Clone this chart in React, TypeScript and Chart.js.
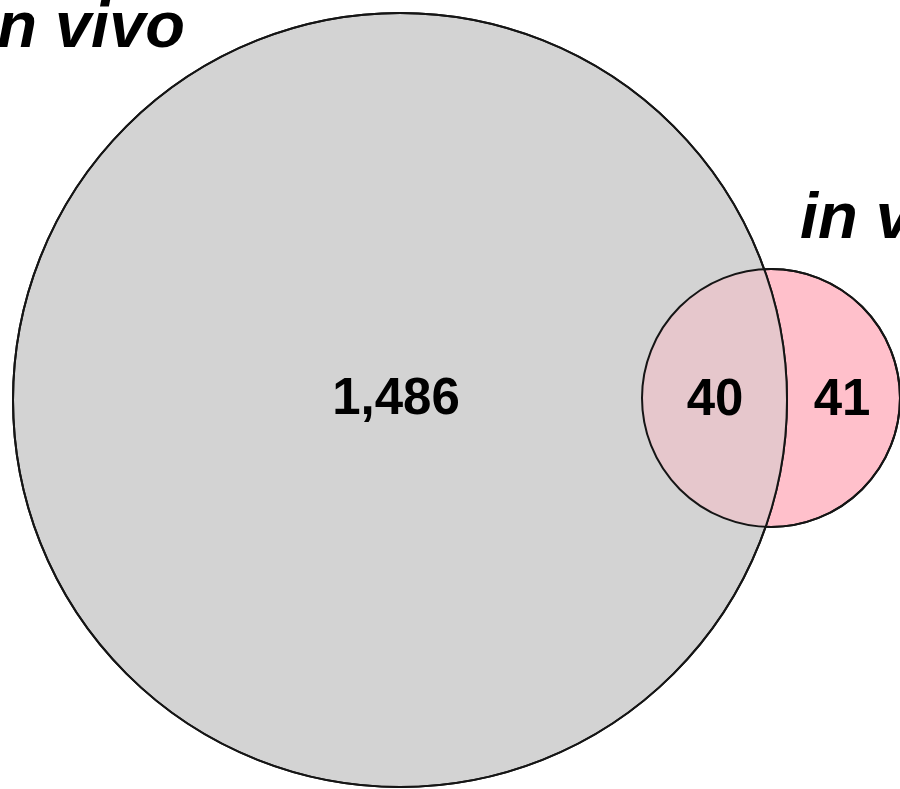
import React, { useEffect, useRef } from "react";
import { Chart, registerables } from "chart.js";
Chart.register(...registerables);

// ---- data ----
const setNames = ["in vivo", "in vitro"];
const regionNames = ["in vivo only", "both", "in vitro only"];
const regionCounts = [1486, 40, 41];

// ---- layout (data units of the hidden 900 x 789 scales) ----
const CIRCLES = [
  { x: 400, y: 400, r: 387 },
  { x: 771, y: 398, r: 129 },
];
const COUNT_POS = [
  { x: 396, y: 400 },
  { x: 715, y: 401 },
  { x: 842, y: 401 },
];
const NAME_POS: { x: number; y: number; align: CanvasTextAlign }[] = [
  { x: 185, y: 47, align: "right" },
  { x: 800, y: 238, align: "left" },
];

// ---- styles ----
const FILLS = ["#d3d3d3", "#ffc0cb"];
const LENS = "#e6c7cc";
const EDGE = "#151515";
const EDGE_W = 2;
const FONT = '"Liberation Sans", Arial, Helvetica, sans-serif';

const fmt = (n: number) => n.toLocaleString("en-US");

function pxCircle(chart: any, c: { x: number; y: number; r: number }) {
  const sx = chart.scales.x;
  const sy = chart.scales.y;
  return {
    cx: sx.getPixelForValue(c.x),
    cy: sy.getPixelForValue(c.y),
    r: Math.abs(sx.getPixelForValue(c.r) - sx.getPixelForValue(0)),
  };
}

const vennPlugin = {
  id: "vennOverlay",
  afterDatasetsDraw(chart: any) {
    const ctx: CanvasRenderingContext2D = chart.ctx;
    const sx = chart.scales.x;
    const sy = chart.scales.y;
    const a = pxCircle(chart, CIRCLES[0]);
    const b = pxCircle(chart, CIRCLES[1]);

    // intersection region
    ctx.save();
    ctx.beginPath();
    ctx.arc(a.cx, a.cy, a.r, 0, Math.PI * 2);
    ctx.clip();
    ctx.beginPath();
    ctx.arc(b.cx, b.cy, b.r, 0, Math.PI * 2);
    ctx.fillStyle = LENS;
    ctx.fill();
    ctx.restore();

    // outlines
    ctx.save();
    ctx.strokeStyle = EDGE;
    ctx.lineWidth = EDGE_W;
    [a, b].forEach((c) => {
      ctx.beginPath();
      ctx.arc(c.cx, c.cy, c.r, 0, Math.PI * 2);
      ctx.stroke();
    });
    ctx.restore();

    // counts
    ctx.save();
    ctx.fillStyle = "#000";
    ctx.font = `bold 51px ${FONT}`;
    ctx.textAlign = "center";
    ctx.textBaseline = "middle";
    regionCounts.forEach((v, i) => {
      ctx.fillText(fmt(v), sx.getPixelForValue(COUNT_POS[i].x), sy.getPixelForValue(COUNT_POS[i].y));
    });
    // set names
    ctx.font = `italic bold 65px ${FONT}`;
    ctx.textBaseline = "alphabetic";
    setNames.forEach((name, i) => {
      ctx.textAlign = NAME_POS[i].align;
      ctx.fillText(name, sx.getPixelForValue(NAME_POS[i].x), sy.getPixelForValue(NAME_POS[i].y));
    });
    ctx.restore();
  },
};

export default function App() {
  const ref = useRef<HTMLCanvasElement>(null);
  useEffect(() => {
    if (!ref.current) return;
    const chart = new Chart(ref.current, {
      type: "scatter",
      data: {
        datasets: setNames.map((name, i) => ({
          label: name,
          data: [{ x: CIRCLES[i].x, y: CIRCLES[i].y }],
          pointRadius: (c: any) => pxCircle(c.chart, CIRCLES[i]).r,
          pointHoverRadius: (c: any) => pxCircle(c.chart, CIRCLES[i]).r,
          pointBackgroundColor: FILLS[i],
          pointBorderColor: EDGE,
          pointBorderWidth: EDGE_W,
          clip: false as any,
        })),
      },
      options: {
        animation: false,
        responsive: true,
        maintainAspectRatio: false,
        events: [],
        layout: { padding: 0 },
        plugins: {
          legend: { display: false },
          tooltip: { enabled: false },
          title: { display: false },
        },
        scales: {
          x: { type: "linear", min: 0, max: 900, display: false },
          y: { type: "linear", min: 0, max: 789, reverse: true, display: false },
        },
      },
      plugins: [vennPlugin],
    });
    return () => chart.destroy();
  }, []);
  return (
    <div style={{ position: "fixed", left: 0, top: 0, width: 900, height: 789, background: "#fff" }}>
      <canvas ref={ref} style={{ display: "block" }} aria-label={regionNames.join(", ")} />
    </div>
  );
}
